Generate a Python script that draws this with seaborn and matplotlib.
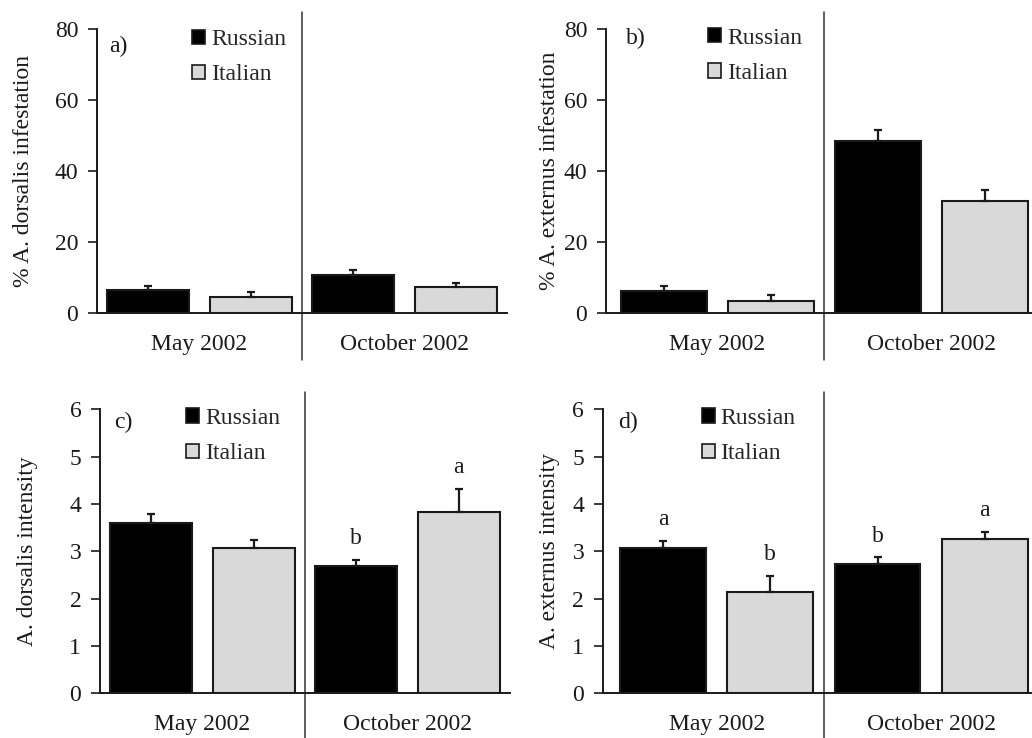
import pandas as pd
import matplotlib.pyplot as plt
import seaborn as sns
from matplotlib.patches import Patch

# data
periods = ['May 2002', 'October 2002']
origins = ['Russian', 'Italian']

a_russian = [6.5, 10.7]
a_italian = [4.5, 7.3]
a_russian_se = [1.1, 1.4]
a_italian_se = [1.4, 1.1]

b_russian = [6.3, 48.4]
b_italian = [3.5, 31.6]
b_russian_se = [1.4, 3.1]
b_italian_se = [1.7, 3.0]

c_russian = [3.59, 2.69]
c_italian = [3.06, 3.83]
c_russian_se = [0.19, 0.13]
c_italian_se = [0.18, 0.49]

d_russian = [3.06, 2.73]
d_italian = [2.15, 3.27]
d_russian_se = [0.16, 0.14]
d_italian_se = [0.33, 0.14]

c_letters_russian = ['', 'b']
c_letters_italian = ['', 'a']
d_letters_russian = ['a', 'b']
d_letters_italian = ['b', 'a']

sns.set_style('ticks')
plt.rcParams['font.family'] = 'serif'
plt.rcParams['font.serif'] = ['Liberation Serif', 'DejaVu Serif']

colors = {'Russian': '#000000', 'Italian': '#d9d9d9'}
ink = '#1a1a1a'
fs = 17


def panel(ax, russian, italian, r_se, i_se, ylabel, label_x, tag, tag_xy, ymax,
          yticks, xlim, legend_xy, letters_r=None, letters_i=None, letter_off=0.0):
    df = pd.DataFrame({
        'period': periods * 2,
        'origin': ['Russian'] * 2 + ['Italian'] * 2,
        'value': russian + italian,
        'se': r_se + i_se,
    })
    sns.barplot(data=df, x='period', y='value', hue='origin', hue_order=origins,
                order=periods, palette=colors, errorbar=None, width=1.0, gap=0.2,
                edgecolor=ink, linewidth=1.5, legend=False, ax=ax)
    letters = [letters_r or ['', ''], letters_i or ['', '']]
    bar_groups = list(ax.containers)
    for k, cont in enumerate(bar_groups):
        se = [r_se, i_se][k]
        for j, bar in enumerate(cont):
            xc = bar.get_x() + bar.get_width() / 2
            h = bar.get_height()
            ax.errorbar(xc, h, yerr=[[0], [se[j]]], fmt='none', ecolor=ink,
                        elinewidth=1.6, capsize=3.2, capthick=1.6, zorder=1)
            if letters[k][j]:
                ax.text(xc, h + se[j] + letter_off, letters[k][j], ha='center',
                        va='bottom', fontsize=fs, color=ink)
    ax.set_ylim(0, ymax)
    ax.set_yticks(yticks)
    ax.set_xlim(*xlim)
    ax.set_xlabel('')
    ax.set_ylabel(ylabel, fontsize=fs, color=ink)
    ax.yaxis.set_label_coords(label_x, 0.5)
    ax.tick_params(axis='y', labelsize=fs, length=6.5, width=1.2, colors=ink, pad=7)
    ax.tick_params(axis='x', labelsize=fs, length=0, pad=15, colors=ink)
    sns.despine(ax=ax)
    for s in ['left', 'bottom']:
        ax.spines[s].set_linewidth(1.4)
        ax.spines[s].set_color(ink)
    # separator between periods
    ax.axvline(0.5, ymin=-0.165, ymax=1.06, color='#333333', linewidth=1.1,
               clip_on=False)
    ax.text(tag_xy[0], tag_xy[1], tag, transform=ax.transAxes, fontsize=fs,
            color=ink, ha='left', va='center')
    handles = [Patch(facecolor=colors[o], edgecolor=ink, linewidth=1.2) for o in origins]
    ax.legend(handles, origins, loc='upper left', bbox_to_anchor=legend_xy,
              frameon=False, fontsize=fs, handlelength=0.55, handleheight=0.55,
              handletextpad=0.25, labelspacing=0.6, borderpad=0, borderaxespad=0)


fig = plt.figure(figsize=(10.32, 7.38), dpi=100)
ax_a = fig.add_axes([0.094, 0.5759, 0.3973, 0.3848])
ax_b = fig.add_axes([0.5872, 0.5759, 0.4128, 0.3848])
ax_c = fig.add_axes([0.0969, 0.0606, 0.3973, 0.3848])
ax_d = fig.add_axes([0.5843, 0.0606, 0.4157, 0.3848])

panel(ax_a, a_russian, a_italian, a_russian_se, a_italian_se,
      '% A. dorsalis infestation', -0.154, 'a)', (0.03, 0.937), 80,
      [0, 20, 40, 60, 80], (-0.5, 1.5), (0.232, 1.0))
panel(ax_b, b_russian, b_italian, b_russian_se, b_italian_se,
      '% A. externus infestation', -0.108, 'b)', (0.047, 0.968), 80,
      [0, 20, 40, 60, 80], (-0.52, 1.47), (0.24, 1.005))
panel(ax_c, c_russian, c_italian, c_russian_se, c_italian_se,
      'A. dorsalis intensity', -0.151, 'c)', (0.035, 0.955), 6,
      range(7), (-0.5, 1.5), (0.21, 1.005),
      c_letters_russian, c_letters_italian, 0.22)
panel(ax_d, d_russian, d_italian, d_russian_se, d_italian_se,
      'A. externus intensity', -0.10, 'd)', (0.035, 0.955), 6,
      range(7), (-0.53, 1.47), (0.23, 1.005),
      d_letters_russian, d_letters_italian, 0.22)

fig.savefig('out.png', dpi=100)
